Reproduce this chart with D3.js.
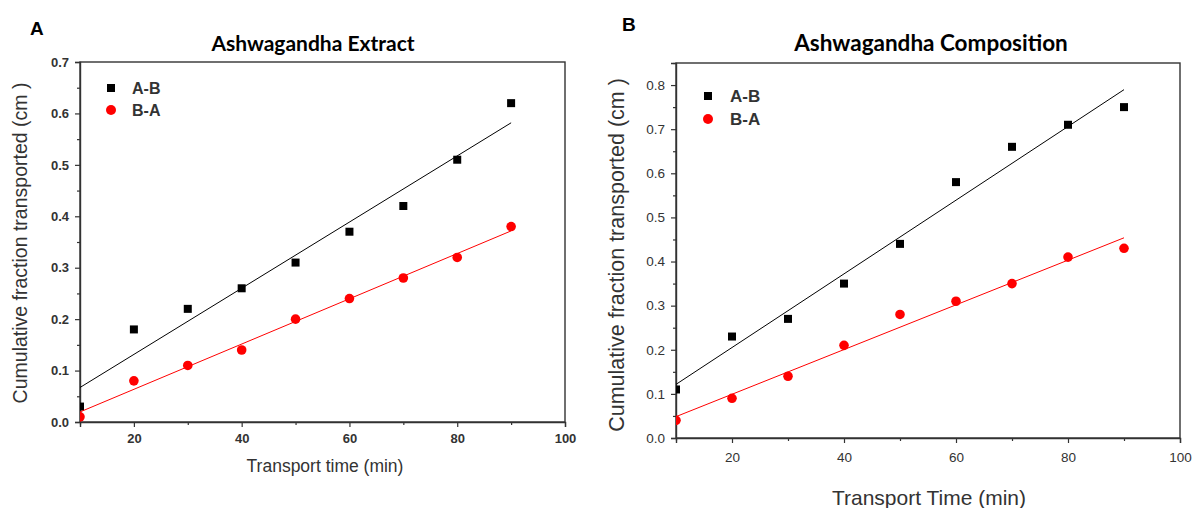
<!DOCTYPE html>
<html>
<head>
<meta charset="utf-8">
<script src="https://cdn.jsdelivr.net/npm/d3@7"></script>
<style>
  html, body { margin: 0; padding: 0; background: #fff; }
  svg { display: block; }
</style>
</head>
<body>
<svg id="chart" width="1194" height="508"></svg>
<script>
// ---------- data ----------
const times = [10, 20, 30, 40, 50, 60, 70, 80, 90];
const extractAB = [0.03, 0.18, 0.22, 0.26, 0.31, 0.37, 0.42, 0.51, 0.62];
const extractBA = [0.01, 0.08, 0.11, 0.14, 0.20, 0.24, 0.28, 0.32, 0.38];
const compositionAB = [0.11, 0.23, 0.27, 0.35, 0.44, 0.58, 0.66, 0.71, 0.75];
const compositionBA = [0.04, 0.09, 0.14, 0.21, 0.28, 0.31, 0.35, 0.41, 0.43];
const seriesNames = ["A-B", "B-A"];
const xTickValues = [20, 40, 60, 80, 100];
const xMinorTicks = [10, 30, 50, 70, 90];
const extractYTicks = [0, 0.1, 0.2, 0.3, 0.4, 0.5, 0.6, 0.7];
const compositionYTicks = [0, 0.1, 0.2, 0.3, 0.4, 0.5, 0.6, 0.7, 0.8];
const panelLetters = ["A", "B"];
const panelTitles = ["Ashwagandha Extract", "Ashwagandha Composition"];
const xTitles = ["Transport time (min)", "Transport Time (min)"];
const yTitle = "Cumulative fraction transported (cm )";

const svg = d3.select("#chart");
const textCol = "#333";
const sansFont = "Arial, 'Liberation Sans', sans-serif";

function fit(xs, ys) {
  const mx = d3.mean(xs), my = d3.mean(ys);
  let sxy = 0, sxx = 0;
  xs.forEach((x, i) => { sxy += (x - mx) * (ys[i] - my); sxx += (x - mx) * (x - mx); });
  const b = sxy / sxx;
  return { a: my - b * mx, b };
}

function panel(cfg) {
  const g = svg.append("g");
  const x = d3.scaleLinear().domain([10, 100]).range([cfg.left, cfg.right]);
  const y = d3.scaleLinear().domain([0, cfg.ymax]).range([cfg.bottom, cfg.top]);

  const last = cfg.yTicks[cfg.yTicks.length - 1];
  const yMinor = cfg.yTicks.map(v => +(v + 0.05).toFixed(2)).filter(v => v <= cfg.ymax + 1e-9 && v !== last);

  const xAxis = d3.axisBottom(x).tickValues(cfg.xTicks).tickFormat(d3.format("d")).tickSize(5).tickPadding(cfg.xPad);
  const xMin = d3.axisBottom(x).tickValues(xMinorTicks).tickFormat("").tickSize(3);
  const yAxis = d3.axisLeft(y).tickValues(cfg.yTicks).tickFormat(d3.format(".1f")).tickSize(5).tickPadding(cfg.yPad);
  const yMin = d3.axisLeft(y).tickValues(yMinor).tickFormat("").tickSize(3);

  const styleAxis = sel => {
    sel.selectAll("path").attr("stroke", textCol).attr("stroke-width", 1.4);
    sel.selectAll("line").attr("stroke", textCol).attr("stroke-width", 1.2);
    sel.selectAll("text").attr("fill", textCol)
      .style("font-family", sansFont)
      .style("font-size", cfg.tickSize + "px")
      .style("font-weight", cfg.tickWeight);
  };

  g.append("g").attr("transform", `translate(0,${cfg.bottom})`).call(xMin).call(styleAxis).select("path").remove();
  g.append("g").attr("transform", `translate(${cfg.left},0)`).call(yMin).call(styleAxis).select("path").remove();
  g.append("g").attr("transform", `translate(0,${cfg.bottom})`).call(xAxis).call(styleAxis);
  g.append("g").attr("transform", `translate(${cfg.left},0)`).call(yAxis).call(styleAxis);

  // frame
  g.append("rect").attr("x", cfg.left).attr("y", cfg.top)
    .attr("width", cfg.right - cfg.left).attr("height", cfg.bottom - cfg.top)
    .attr("fill", "none").attr("stroke", textCol).attr("stroke-width", 1.4);

  const clipId = "clip" + cfg.idx;
  svg.append("clipPath").attr("id", clipId).append("rect")
    .attr("x", cfg.left).attr("y", cfg.top)
    .attr("width", cfg.right - cfg.left).attr("height", cfg.bottom - cfg.top);

  const plot = g.append("g").attr("clip-path", `url(#${clipId})`);
  const colors = ["#000", "#ff0000"];
  [cfg.ab, cfg.ba].forEach((vals, si) => {
    const f = fit(times, vals);
    const x0 = times[0], x1 = times[times.length - 1];
    plot.append("line")
      .attr("x1", x(x0)).attr("y1", y(f.a + f.b * x0))
      .attr("x2", x(x1)).attr("y2", y(f.a + f.b * x1))
      .attr("stroke", colors[si]).attr("stroke-width", 1);
    const pts = plot.append("g");
    if (si === 0) {
      pts.selectAll("rect").data(times).join("rect")
        .attr("x", (d) => x(d) - 4).attr("y", (d, i) => y(vals[i]) - 4)
        .attr("width", 8).attr("height", 8).attr("fill", "#000");
    } else {
      pts.selectAll("circle").data(times).join("circle")
        .attr("cx", d => x(d)).attr("cy", (d, i) => y(vals[i]))
        .attr("r", 4.8).attr("fill", "#ff0000");
    }
  });

  // legend
  const lg = g.append("g");
  lg.append("rect").attr("x", cfg.legX - 4).attr("y", cfg.legY - 4).attr("width", 8).attr("height", 8).attr("fill", "#000");
  lg.append("circle").attr("cx", cfg.legX).attr("cy", cfg.legY + cfg.legGap).attr("r", 5).attr("fill", "#ff0000");
  seriesNames.forEach((n, i) => {
    lg.append("text").attr("x", cfg.legTx).attr("y", cfg.legY + i * cfg.legGap)
      .attr("dy", "0.36em").attr("fill", textCol)
      .style("font-family", sansFont)
      .style("font-weight", "bold").style("font-size", cfg.legSize + "px").text(n);
  });

  // titles
  g.append("text").attr("x", cfg.letterX).attr("y", cfg.letterY).attr("dy", "0.36em")
    .attr("fill", "#000").style("font-family", sansFont)
    .style("font-weight", "bold").style("font-size", "19px").text(panelLetters[cfg.idx]);
  g.append("text").attr("x", cfg.titleX).attr("y", cfg.titleY).attr("dy", "0.36em")
    .attr("text-anchor", "middle").attr("fill", "#000")
    .style("font-family", "Lato, 'Open Sans', sans-serif").style("font-weight", "bold")
    .style("font-size", cfg.titleSize + "px").text(panelTitles[cfg.idx]);
  g.append("text").attr("x", cfg.xTitleX).attr("y", cfg.xTitleY).attr("dy", "0.36em")
    .attr("text-anchor", "middle").attr("fill", textCol)
    .style("font-family", sansFont)
    .style("font-size", cfg.xTitleSize + "px").text(xTitles[cfg.idx]);
  g.append("text")
    .attr("transform", `translate(${cfg.yTitleX},${cfg.yTitleY}) rotate(-90)`)
    .attr("dy", "0.36em").attr("text-anchor", "middle").attr("fill", textCol)
    .style("font-family", sansFont)
    .style("font-size", cfg.yTitleSize + "px").text(yTitle);
}

panel({
  idx: 0, left: 80, right: 565, top: 62, bottom: 422, ymax: 0.7,
  yTicks: extractYTicks, xTicks: xTickValues, ab: extractAB, ba: extractBA,
  tickSize: 13, tickWeight: "bold", xPad: 7, yPad: 6,
  legX: 111, legY: 88, legGap: 22, legTx: 132, legSize: 16,
  letterX: 30, letterY: 28, titleX: 313, titleY: 43, titleSize: 21,
  xTitleX: 325, xTitleY: 466, xTitleSize: 17.5, yTitleX: 20, yTitleY: 243, yTitleSize: 19.5
});
panel({
  idx: 1, left: 676, right: 1180, top: 63, bottom: 438, ymax: 0.85,
  yTicks: compositionYTicks, xTicks: xTickValues, ab: compositionAB, ba: compositionBA,
  tickSize: 13.5, tickWeight: "normal", xPad: 9, yPad: 6,
  legX: 708, legY: 96, legGap: 23, legTx: 730, legSize: 17,
  letterX: 622, letterY: 24, titleX: 931, titleY: 43, titleSize: 22.5,
  xTitleX: 929, xTitleY: 497, xTitleSize: 21, yTitleX: 616, yTitleY: 255, yTitleSize: 21.5
});
</script>
</body>
</html>
